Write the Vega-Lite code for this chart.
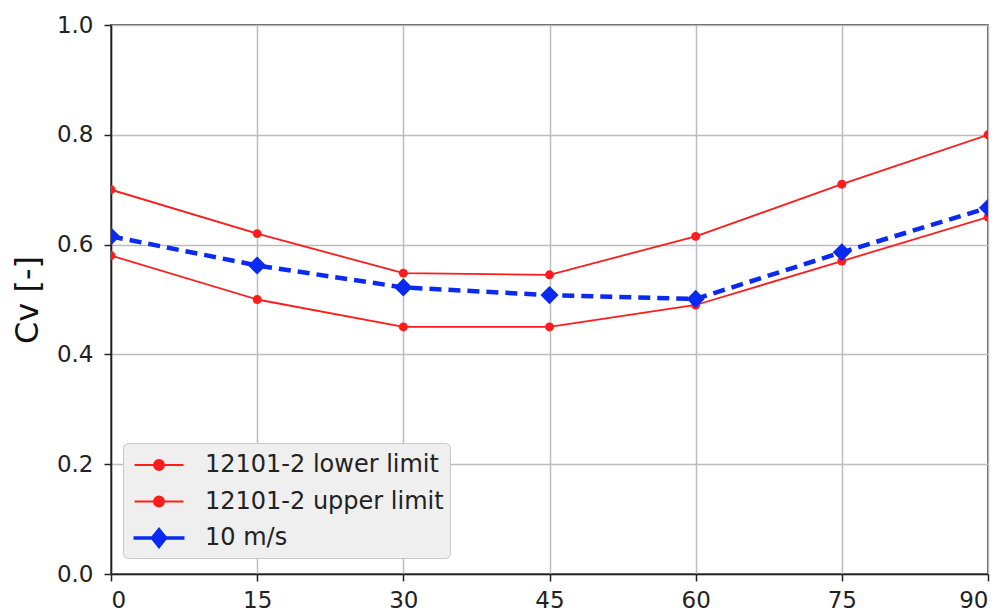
{
  "$schema": "https://vega.github.io/schema/vega-lite/v6.json",
  "autosize": {"type": "none"},
  "width": 877,
  "height": 549,
  "padding": {"left": 111, "top": 25, "right": 19, "bottom": 39},
  "background": "white",
  "config": {
    "font": "DejaVu Sans",
    "view": {"stroke": "#222", "strokeWidth": 1.5},
    "axis": {
      "labelFont": "DejaVu Sans",
      "labelFontSize": 23,
      "labelColor": "#222",
      "domainColor": "#222",
      "domainWidth": 1.5,
      "tickColor": "#222",
      "tickWidth": 1.5,
      "tickSize": 7,
      "gridColor": "#bdbdbd",
      "gridWidth": 1.5
    }
  },
  "data": {
    "values": [
      {"angle": 0, "series": "12101-2 lower limit", "cv": 0.58},
      {"angle": 15, "series": "12101-2 lower limit", "cv": 0.50},
      {"angle": 30, "series": "12101-2 lower limit", "cv": 0.45},
      {"angle": 45, "series": "12101-2 lower limit", "cv": 0.45},
      {"angle": 60, "series": "12101-2 lower limit", "cv": 0.49},
      {"angle": 75, "series": "12101-2 lower limit", "cv": 0.57},
      {"angle": 90, "series": "12101-2 lower limit", "cv": 0.65},
      {"angle": 0, "series": "12101-2 upper limit", "cv": 0.70},
      {"angle": 15, "series": "12101-2 upper limit", "cv": 0.62},
      {"angle": 30, "series": "12101-2 upper limit", "cv": 0.548},
      {"angle": 45, "series": "12101-2 upper limit", "cv": 0.545},
      {"angle": 60, "series": "12101-2 upper limit", "cv": 0.615},
      {"angle": 75, "series": "12101-2 upper limit", "cv": 0.71},
      {"angle": 90, "series": "12101-2 upper limit", "cv": 0.80},
      {"angle": 0, "series": "10 m/s", "cv": 0.615},
      {"angle": 15, "series": "10 m/s", "cv": 0.562},
      {"angle": 30, "series": "10 m/s", "cv": 0.522},
      {"angle": 45, "series": "10 m/s", "cv": 0.508},
      {"angle": 60, "series": "10 m/s", "cv": 0.501},
      {"angle": 75, "series": "10 m/s", "cv": 0.586},
      {"angle": 90, "series": "10 m/s", "cv": 0.667}
    ]
  },
  "encoding": {
    "x": {
      "field": "angle", "type": "quantitative",
      "scale": {"domain": [0, 90], "nice": false, "zero": false},
      "axis": {"values": [0, 15, 30, 45, 60, 75, 90], "title": null, "grid": true, "labelPadding": 8}
    },
    "y": {
      "field": "cv", "type": "quantitative",
      "scale": {"domain": [0, 1], "nice": false},
      "axis": {"values": [0, 0.2, 0.4, 0.6, 0.8, 1.0], "format": ".1f", "title": "Cv [-]", "titleFont": "DejaVu Sans", "titleFontSize": 32, "titleFontWeight": "normal", "titleColor": "#111", "titlePadding": 12, "labelPadding": 11, "grid": true}
    }
  },
  "layer": [
    {
      "transform": [{"filter": "datum.series !== '10 m/s'"}],
      "mark": {"type": "line", "clip": true, "color": "#ff1c1c", "strokeWidth": 1.8},
      "encoding": {"detail": {"field": "series", "type": "nominal"}}
    },
    {
      "transform": [{"filter": "datum.series === '10 m/s'"}],
      "mark": {"type": "line", "clip": true, "color": "#0a2af2", "strokeWidth": 4.5, "strokeDash": [12, 7]},
      "encoding": {}
    },
    {
      "transform": [{"filter": "datum.series !== '10 m/s'"}],
      "mark": {"type": "point", "shape": "circle", "filled": true, "opacity": 1, "size": 80, "clip": true, "color": "#ff1c1c"}
    },
    {
      "transform": [{"filter": "datum.series === '10 m/s'"}],
      "mark": {"type": "point", "shape": "diamond", "filled": true, "opacity": 1, "size": 330, "clip": true, "color": "#0a2af2"}
    },
    {
      "transform": [{"filter": "datum.angle < 0"}],
      "mark": {"type": "point", "filled": true, "opacity": 1, "size": 900},
      "encoding": {
        "fill": {
          "field": "series", "type": "nominal",
          "scale": {"domain": ["12101-2 lower limit", "12101-2 upper limit", "10 m/s"], "range": ["#ff1c1c", "#ff1c1c", "#0a2af2"]},
          "legend": {
            "title": null,
            "orient": "none",
            "legendX": 12,
            "legendY": 418,
            "labelFont": "DejaVu Sans",
            "labelFontSize": 24,
            "labelColor": "#222",
            "labelLimit": 400,
            "labelOffset": 30,
            "symbolOffset": 14,
            "symbolOpacity": 1,
            "symbolFillOpacity": 1,
            "symbolStrokeWidth": 2,
            "fillColor": "#efefef",
            "strokeColor": "#c8c8c8",
            "cornerRadius": 5,
            "padding": 6,
            "rowPadding": 8.5,
            "symbolSize": 900
          }
        },
        "stroke": {
          "field": "series", "type": "nominal",
          "scale": {"domain": ["12101-2 lower limit", "12101-2 upper limit", "10 m/s"], "range": ["#ff1c1c", "#ff1c1c", "#0a2af2"]}
        },
        "shape": {
          "field": "series", "type": "nominal",
          "scale": {"domain": ["12101-2 lower limit", "12101-2 upper limit", "10 m/s"], "range": [
            "M-1.63,0H1.63M0.33,0A0.33,0.33 0 1,1 -0.33,0A0.33,0.33 0 1,1 0.33,0Z",
            "M-1.63,0H1.63M0.33,0A0.33,0.33 0 1,1 -0.33,0A0.33,0.33 0 1,1 0.33,0Z",
            "M-1.63,-0.05H1.63V0.05H-1.63ZM0,-0.62L0.5,0L0,0.62L-0.5,0Z"
          ]}
        }
      }
    }
  ]
}
